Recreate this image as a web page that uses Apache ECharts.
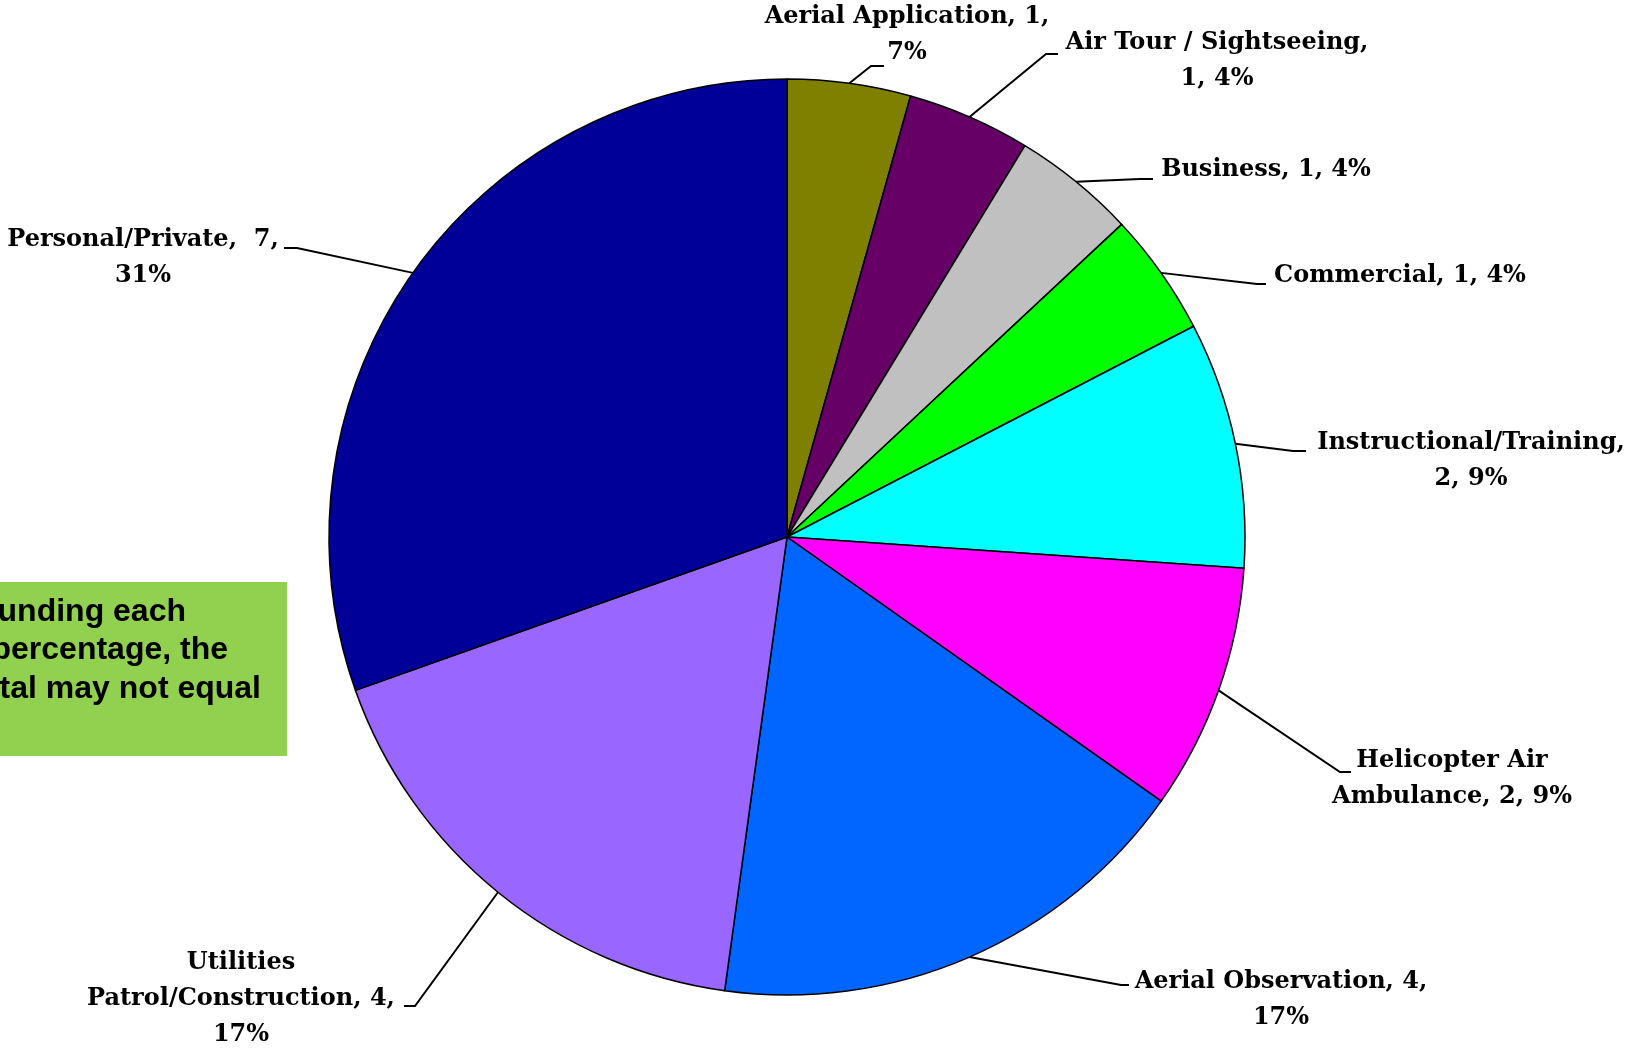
<!DOCTYPE html>
<html>
<head>
<meta charset="utf-8">
<script src="https://cdn.jsdelivr.net/npm/echarts@6/dist/echarts.min.js"></script>
<style>
  html, body { margin: 0; padding: 0; background: #fff; }
  #chart { width: 1635px; height: 1049px; }
</style>
</head>
<body>
<div id="chart"></div>
<script>
// operations by type
const categories = ['Aerial Application', 'Air Tour / Sightseeing', 'Business', 'Commercial',
  'Instructional/Training', 'Helicopter Air Ambulance', 'Aerial Observation',
  'Utilities Patrol/Construction', 'Personal/Private'];
const counts = [1, 1, 1, 1, 2, 2, 4, 4, 7];
const percents = ['7%', '4%', '4%', '4%', '9%', '9%', '17%', '17%', '31%'];
const colors = ['#808000', '#660066', '#C0C0C0', '#00FF00', '#00FFFF', '#FF00FF', '#0066FF', '#9966FF', '#000099'];
const noteLines = ['rounding each', 'percentage, the', 'total may not equal'];

// how each label wraps, as in the original
const labelFormats = [
  '{n}, {v},\n{p}',
  'Air Tour / Sightseeing,\n{v}, {p}',
  '{n}, {v}, {p}',
  '{n}, {v}, {p}',
  '{n},\n{v}, {p}',
  'Helicopter Air\nAmbulance, {v}, {p}',
  '{n}, {v},\n{p}',
  'Utilities\nPatrol/Construction, {v},\n{p}',
  '{n},  {v},\n{p}'
];

// label centre and leader bend/end points (px)
const labelPos = [
  [907, 35, [871, 66], [884, 66]],
  [1217, 61, [1046, 54], [1058, 54]],
  [1266, 170, [1140, 179], [1153, 179]],
  [1400, 276, [1257, 284], [1266, 284]],
  [1471, 461, [1293, 451], [1306, 451]],
  [1452, 779, [1340, 772], [1351, 772]],
  [1281, 1000, [1121, 985], [1129, 985]],
  [241, 999, [415, 1006], [404, 1006]],
  [143, 258, [297, 248], [284, 248]]
];

const chart = echarts.init(document.getElementById('chart'));

const data = categories.map((c, i) => ({
  name: c,
  value: counts[i],
  itemStyle: { color: colors[i] }
}));

chart.setOption({
  animation: false,
  graphic: [
    {
      type: 'rect',
      shape: { x: -10, y: 582, width: 297, height: 174 },
      style: { fill: '#92D050' },
      z: 10
    },
    ...noteLines.map((t, i) => ({
      type: 'text',
      x: [186, 228, 261][i],
      y: 612 + i * 38.5,
      style: {
        text: t,
        align: 'right',
        verticalAlign: 'middle',
        font: 'bold 32px "Liberation Sans", Arial, sans-serif',
        fill: '#000'
      },
      z: 11
    }))
  ],
  series: [{
    type: 'pie',
    center: [787, 537],
    radius: 458,
    startAngle: 90,
    clockwise: true,
    avoidLabelOverlap: false,
    data: data,
    itemStyle: { borderColor: '#000', borderWidth: 1.5 },
    emphasis: { disabled: true },
    label: {
      show: true,
      position: 'outside',
      color: '#000',
      fontFamily: '"DejaVu Serif", "Liberation Serif", serif',
      fontWeight: 'bold',
      fontSize: 24,
      lineHeight: 36,
      align: 'center',
      formatter: p => labelFormats[p.dataIndex]
        .replace('{n}', p.name)
        .replace('{v}', p.value)
        .replace('{p}', percents[p.dataIndex])
    },
    labelLine: {
      show: true,
      length: 10,
      length2: 10,
      lineStyle: { color: '#000', width: 2 }
    },
    labelLayout: function (params) {
      const lp = labelPos[params.dataIndex];
      const start = params.labelLinePoints ? params.labelLinePoints[0] : lp[2];
      return {
        x: lp[0],
        y: lp[1],
        align: 'center',
        verticalAlign: 'middle',
        labelLinePoints: [start, lp[2], lp[3]]
      };
    }
  }]
});
</script>
</body>
</html>
